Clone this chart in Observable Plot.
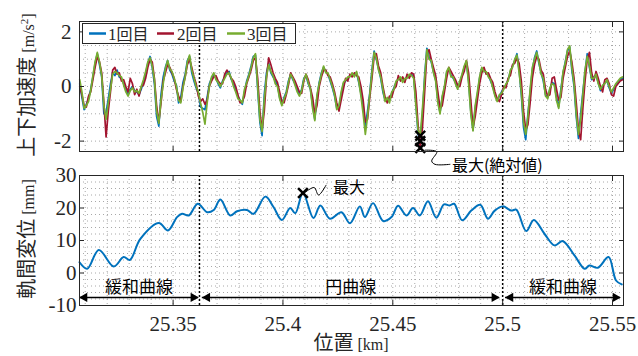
<!DOCTYPE html>
<html><head><meta charset="utf-8">
<script src="https://cdn.jsdelivr.net/npm/d3@7"></script>
<script src="https://cdn.jsdelivr.net/npm/@observablehq/plot@0.6"></script>
<style>
body{margin:0;background:#fff;}
#wrap{position:relative;width:638px;height:356px;overflow:hidden;background:#fff;}
#wrap svg{position:absolute;left:0;}
</style></head><body><div id="wrap"></div>
<script>
// ---- data ----
const accStart = 25.3075, accStep = 0.001;
const acc1 = [
 0.1,-0.4,-0.85,-0.65,-0.45,-0.1,0.35,0.85,1.2,0.8,
 0.35,-1.0,-0.95,-0.45,0.1,0.5,0.4,0.6,0.35,0.3,
 0.1,-0.1,-0.3,-0.1,0.0,-0.15,-0.2,-0.3,-0.1,0.15,
 0.45,0.85,1.1,0.7,0.1,-1.1,-1.45,-0.3,0.35,0.7,
 0.95,0.6,0.45,0.2,0.05,-0.6,-0.4,0.15,0.45,0.95,
 1.1,0.5,0.2,-0.05,-0.25,-0.75,-0.8,-0.85,-0.4,0.1,
 0.3,0.45,0.3,0.1,-0.05,0.2,0.35,0.5,0.55,0.25,
 0.1,-0.15,-0.35,-0.5,-0.65,-0.2,0.2,0.45,0.75,1.1,
 1.15,-0.1,-1.3,-1.8,-0.3,0.5,0.85,0.5,0.35,0.2,
 0.05,-0.4,-0.65,-0.4,-0.2,0.2,0.45,0.25,0.1,-0.1,
 -0.3,-0.1,0.3,0.4,0.1,-0.1,-0.7,-1.2,-0.4,0.15,
 0.5,0.7,0.55,0.45,0.2,-0.05,-0.35,-0.8,-0.75,-0.3,
 0.1,0.2,0.3,0.4,0.45,0.4,0.5,0.15,-0.25,-0.7,
 -1.45,-0.9,-0.25,0.6,1.3,1.0,0.65,0.3,-0.2,-0.5,
 -0.45,-0.5,-0.25,-0.05,0.15,0.3,0.3,0.2,0.25,0.35,
 0.4,0.45,0.35,-0.6,-1.75,-2.0,-1.0,0.4,1.4,1.1,
 0.9,0.55,0.25,-0.5,-0.95,-0.4,-0.05,0.5,0.65,0.4,
 0.3,0.15,-0.05,0.15,0.4,0.7,0.9,0.2,-0.9,-1.6,
 -0.8,-0.3,0.3,0.65,0.6,0.5,0.4,0.2,0.0,-0.3,
 -0.5,-0.35,-0.2,-0.05,0.05,0.25,0.55,0.75,0.95,1.2,
 0.6,-0.3,-1.5,-1.95,-1.0,-0.2,0.6,1.05,1.3,0.85,
 0.5,0.2,-0.3,-0.4,-0.1,0.15,0.1,-0.4,-0.75,-0.1,
 0.5,0.9,1.3,1.45,0.6,0.0,-1.1,-1.9,-1.0,-0.2,
 0.55,1.2,0.7,0.25,0.35,0.4,0.15,-0.15,0.0,0.15,
 0.2,-0.05,-0.25,-0.1,0.05,0.15,0.25,0.3];
const acc2 = [
 0.0,-0.3,-0.7,-0.75,-0.35,-0.2,0.25,0.7,1.1,0.9,
 0.5,-0.6,-1.85,-0.9,-0.2,0.6,0.7,0.45,0.5,0.2,
 0.25,0.0,-0.2,0.3,0.1,-0.3,-0.1,-0.35,0.0,0.05,
 0.3,0.7,1.0,0.9,0.3,-0.7,-1.3,-0.6,0.2,0.5,
 0.8,0.7,0.5,0.3,-0.1,-0.35,-0.55,0.0,0.35,0.8,
 1.0,0.7,0.35,0.1,-0.35,-0.55,-0.45,-0.65,-0.5,0.0,
 0.2,0.35,0.4,0.2,0.1,0.1,0.45,0.6,0.45,0.3,
 0.2,0.0,-0.3,-0.6,-0.55,-0.35,0.1,0.35,0.6,0.95,
 1.05,0.3,-0.9,-1.6,-0.9,0.3,1.05,0.8,0.5,0.3,
 0.15,-0.2,-0.55,-0.6,-0.3,0.05,0.5,0.35,0.2,0.0,
 -0.2,-0.25,0.2,0.45,0.25,-0.05,-0.4,-1.0,-0.7,0.0,
 0.35,0.6,0.6,0.4,0.35,0.1,-0.2,-0.6,-0.9,-0.5,
 -0.1,0.3,0.2,0.45,0.35,0.5,0.4,0.35,0.0,-0.5,
 -1.3,-1.2,-0.4,0.3,1.1,1.2,0.75,0.5,0.0,-0.4,
 -0.6,-0.35,-0.4,-0.1,0.0,0.4,0.2,0.35,0.15,0.45,
 0.3,0.5,0.45,-0.2,-1.4,-2.25,-1.5,-0.2,1.2,1.35,
 1.0,0.7,0.4,-0.2,-0.8,-0.7,-0.2,0.3,0.7,0.55,
 0.4,0.25,0.05,0.0,0.35,0.55,0.95,0.5,-0.5,-1.5,
 -1.1,-0.5,0.1,0.5,0.7,0.45,0.5,0.3,0.15,-0.2,
 -0.45,-0.55,-0.3,0.0,-0.05,0.3,0.4,0.8,0.85,1.05,
 0.85,0.2,-0.9,-1.6,-1.4,-0.6,0.3,0.8,1.1,1.0,
 0.6,0.45,-0.1,-0.35,-0.3,0.3,0.35,-0.1,-0.5,-0.4,
 0.3,0.7,1.1,1.3,0.9,0.3,-0.6,-1.6,-1.95,-0.8,
 0.2,1.0,1.25,0.5,0.2,0.55,0.3,0.0,-0.2,0.25,
 0.3,0.1,-0.3,-0.35,0.0,0.1,0.2,0.25];
const acc3 = [
 0.25,-0.2,-0.8,-0.7,-0.55,-0.15,0.4,0.9,1.25,0.9,
 0.4,-0.7,-1.2,-0.6,-0.1,0.45,0.55,0.5,0.4,0.35,
 0.05,-0.2,-0.35,-0.15,-0.05,-0.2,-0.15,-0.25,0.0,0.25,
 0.55,0.9,1.05,0.75,0.25,-0.9,-1.35,-0.5,0.1,0.65,
 0.95,0.65,0.55,0.3,0.0,-0.5,-0.6,-0.05,0.35,0.9,
 1.15,0.6,0.3,0.0,-0.2,-0.6,-0.95,-1.38,-0.6,0.0,
 0.35,0.5,0.25,0.15,0.0,0.15,0.3,0.45,0.5,0.3,
 0.0,-0.2,-0.45,-0.5,-0.6,-0.1,0.15,0.4,0.7,1.05,
 1.2,0.0,-1.2,-1.65,-0.5,0.35,0.8,0.55,0.4,0.1,
 0.0,-0.45,-0.7,-0.45,-0.25,0.15,0.45,0.3,0.05,-0.2,
 -0.35,-0.15,0.25,0.45,0.15,-0.1,-0.8,-1.25,-0.3,0.1,
 0.45,0.75,0.5,0.5,0.25,0.0,-0.3,-0.85,-0.7,-0.2,
 0.15,0.25,0.35,0.35,0.5,0.35,0.55,0.2,-0.35,-1.0,
 -1.75,-1.1,-0.3,0.5,1.25,1.05,0.6,0.35,-0.1,-0.55,
 -0.4,-0.6,-0.2,-0.1,0.2,0.25,0.35,0.15,0.3,0.3,
 0.45,0.4,0.3,-0.7,-1.6,-1.8,-0.8,0.3,1.35,1.0,
 0.95,0.5,0.2,-0.6,-1.0,-0.35,0.0,0.55,0.7,0.35,
 0.35,0.1,-0.1,0.2,0.45,0.75,0.95,0.1,-1.0,-1.63,
 -0.7,-0.2,0.35,0.7,0.55,0.55,0.35,0.25,-0.05,-0.35,
 -0.55,-0.3,-0.25,-0.1,0.1,0.2,0.6,0.7,1.0,1.15,
 0.5,-0.2,-1.3,-1.75,-1.1,-0.1,0.7,1.0,1.25,0.9,
 0.45,0.3,-0.35,-0.45,-0.05,0.1,0.05,-0.5,-0.8,-0.2,
 0.55,0.85,1.35,1.49,0.7,0.1,-1.0,-1.75,-1.2,-0.3,
 0.6,1.1,0.75,0.3,0.3,0.45,0.1,-0.1,0.05,0.1,
 0.25,0.0,-0.2,-0.05,0.1,0.2,0.3,0.35];
const seriesNames = ["1回目", "2回目", "3回目"];
const seriesColors = ["#0072BD", "#A2142F", "#77AC30"];

const dispX = [25.3074,25.3109,25.3162,25.3230,25.3275,25.3303,25.3351,25.3435,25.3477,25.3518,25.3541,25.3571,25.3612,25.3655,25.3685,25.3715,25.3760,25.3791,25.3836,25.3866,25.3920,25.3957,25.3995,25.4033,25.4056,25.4091,25.4139,25.4170,25.4214,25.4266,25.4305,25.4350,25.4373,25.4410,25.4456,25.4494,25.4524,25.4562,25.4592,25.4623,25.4660,25.4698,25.4733,25.4759,25.4779,25.4816,25.4857,25.4898,25.4933,25.4964,25.5001,25.5039,25.5062,25.5107,25.5142,25.5191,25.5236,25.5274,25.5327,25.5373,25.5395,25.5433,25.5482,25.5516,25.5542];
const dispY = [3.3,1.3,7.1,2.0,4.9,4.0,10.5,15.4,13.1,17.2,18.2,17.7,21.3,18.7,19.4,22.6,17.7,19.0,19.4,18.2,23.5,20.3,16.3,20.0,18.4,24.6,16.9,20.8,16.7,18.7,15.3,20.5,17.2,21.5,16.0,17.2,20.7,17.7,20.0,17.7,22.1,17.0,21.1,20.8,21.3,16.2,19.2,21.0,16.7,19.2,20.5,19.2,19.5,12.9,16.3,12.0,8.5,9.8,5.4,1.3,2.3,1.6,4.9,-2.3,-3.5];

const xTicks = [25.35, 25.4, 25.45, 25.5, 25.55];
const accTicks = [-2, 0, 2];
const dispTicks = [-10, 0, 10, 20, 30];
const sectionNames = ["緩和曲線", "円曲線", "緩和曲線"];
const sectionStart = [25.3074, 25.3633, 25.5013];
const sectionEnd = [25.3615, 25.4985, 25.5536];
const sectionArrowY = -7.5, sectionLabelY = -4.6;
const sectionBounds = [25.362, 25.5];
const maxLabelTop = "最大(絶対値)", maxLabelBottom = "最大";
const leaderTopX = [25.4647, 25.4700, 25.4677, 25.4692, 25.4760];
const leaderTopY = [-2.33, -2.39, -2.73, -2.85, -2.85];
const leaderBotX = [25.4101, 25.4142, 25.4162, 25.4196];
const leaderBotY = [24.8, 26.3, 24.0, 27.0];

// ---- build ----
const xDomain = [25.3074, 25.555];
const CJK = "Noto Sans CJK JP", SERIF = "Liberation Serif";
const gridStyle = {stroke: "#a8a8a8", strokeOpacity: 1, strokeDasharray: "1,3"};
const accSeries = [acc1, acc2, acc3].map(arr => arr.map((v, i) => ({x: accStart + i * accStep, y: v})));
const accMarkers = accSeries.map(s => s[d3.greatestIndex(s, d => Math.abs(d.y))]);
const disp = dispX.map((x, i) => ({x, y: dispY[i]}));
const dispMax = disp[d3.greatestIndex(disp, d => d.y)];
const sections = sectionNames.map((name, i) => ({name, a: sectionStart[i], b: sectionEnd[i], m: (sectionStart[i] + sectionEnd[i]) / 2}));
const xMinor = d3.range(25.31, 25.5551, 0.01);

const frameAxes = (yTicks) => [
  Plot.frame({stroke: "#262626"}),
  Plot.axisX(xTicks, {anchor: "bottom", tickSize: -5, fill: "none", label: null, stroke: "#262626"}),
  Plot.axisX(xTicks, {anchor: "top", tickSize: -5, fill: "none", label: null, stroke: "#262626"}),
  Plot.axisY(yTicks, {anchor: "left", tickSize: -5, fill: "none", label: null, stroke: "#262626"}),
  Plot.axisY(yTicks, {anchor: "right", tickSize: -5, fill: "none", label: null, stroke: "#262626"})
];

const topPlot = Plot.plot({
  width: 638, height: 175, marginLeft: 79, marginRight: 15, marginTop: 21, marginBottom: 24,
  style: {fontFamily: SERIF, background: "transparent", overflow: "visible"},
  x: {domain: xDomain},
  y: {domain: [-2.38, 2.38]},
  marks: [
    Plot.gridX(xMinor, gridStyle),
    Plot.gridY(d3.range(-2, 2.01, 0.5), gridStyle),
    Plot.ruleX(sectionBounds, {stroke: "#000", strokeWidth: 1.5, strokeDasharray: "2,2"}),
    ...accSeries.map((s, i) => Plot.line(s, {x: "x", y: "y", stroke: seriesColors[i], strokeWidth: 1.7})),
    Plot.dot(accMarkers, {x: "x", y: "y", symbol: "times", r: 4.5, stroke: "#000", strokeWidth: 2.5}),
    Plot.line(leaderTopX.map((x, i) => ({x, y: leaderTopY[i]})), {x: "x", y: "y", curve: "catmull-rom", stroke: "#000", strokeWidth: 1}),
    Plot.text([maxLabelTop], {x: leaderTopX[leaderTopX.length - 1], y: leaderTopY[leaderTopY.length - 1], text: d => d, textAnchor: "start", dx: 2, dy: 2, fontFamily: CJK, fontSize: 16, fill: "#000"}),
    ...frameAxes(accTicks),
    Plot.axisY(accTicks, {anchor: "left", tickSize: 0, tickPadding: 8, fontSize: 21, label: null, tickFormat: d => String(d), fill: "#262626"})
  ]
});

const botPlot = Plot.plot({
  width: 638, height: 196, marginLeft: 79, marginRight: 15, marginTop: 15, marginBottom: 51,
  style: {fontFamily: SERIF, background: "transparent", overflow: "visible"},
  x: {domain: xDomain},
  y: {domain: [-10, 30]},
  marks: [
    Plot.gridX(xMinor, gridStyle),
    Plot.gridY(d3.range(-10, 30.1, 2), gridStyle),
    Plot.ruleX(sectionBounds, {stroke: "#000", strokeWidth: 1.5, strokeDasharray: "2,2"}),
    Plot.line(disp, {x: "x", y: "y", curve: "catmull-rom", stroke: seriesColors[0], strokeWidth: 2}),
    Plot.dot([dispMax], {x: "x", y: "y", symbol: "times", r: 4.5, stroke: "#000", strokeWidth: 2.5}),
    Plot.line(leaderBotX.map((x, i) => ({x, y: leaderBotY[i]})), {x: "x", y: "y", curve: "catmull-rom", stroke: "#000", strokeWidth: 1}),
    Plot.text([maxLabelBottom], {x: leaderBotX[leaderBotX.length - 1], y: leaderBotY[leaderBotY.length - 1], text: d => d, textAnchor: "start", dx: 7, dy: 3, fontFamily: CJK, fontSize: 16, fill: "#000"}),
    Plot.ruleY(sections, {x1: "a", x2: "b", y: () => sectionArrowY, stroke: "#000", strokeWidth: 1.5}),
    Plot.dot(sections, {x: "b", y: () => sectionArrowY, symbol: "triangle", rotate: 90, r: 3.5, fill: "#000", dx: -5}),
    Plot.dot(sections, {x: "a", y: () => sectionArrowY, symbol: "triangle", rotate: -90, r: 3.5, fill: "#000", dx: 5}),
    Plot.text(sections, {x: "m", y: () => sectionLabelY, text: "name", fontFamily: CJK, fontSize: 17, fill: "#000"}),
    ...frameAxes(dispTicks),
    Plot.axisY(dispTicks, {anchor: "left", tickSize: 0, tickPadding: 3, fontSize: 21, label: null, tickFormat: d => String(d), fill: "#262626"}),
    Plot.axisX(xTicks, {anchor: "bottom", tickSize: 0, tickPadding: 11, fontSize: 21, label: null, tickFormat: d => String(d), fill: "#262626"})
  ]
});

const wrap = document.getElementById("wrap");
topPlot.style.top = "0px";
botPlot.style.top = "160px";
wrap.appendChild(topPlot);
wrap.appendChild(botPlot);

function addLabel(svg, x, y, rotate, parts) {
  const t = d3.select(svg).append("text")
    .attr("transform", `translate(${x},${y})` + (rotate ? ` rotate(${rotate})` : ""))
    .attr("text-anchor", "middle").attr("fill", "#262626");
  for (const p of parts) {
    const s = t.append("tspan").text(p.t).attr("font-family", p.f).attr("font-size", p.s);
    if (p.dy) s.attr("dy", p.dy);
  }
}
addLabel(topPlot, 34, 85, -90, [
  {t: "上下加速度", f: CJK, s: 20},
  {t: " [m/s", f: SERIF, s: 16},
  {t: "2", f: SERIF, s: 11, dy: -6},
  {t: "]", f: SERIF, s: 16, dy: 6}
]);
addLabel(botPlot, 34, 79, -90, [
  {t: "軌間変位", f: CJK, s: 20},
  {t: " [mm]", f: SERIF, s: 16}
]);
addLabel(botPlot, 351, 190, 0, [
  {t: "位置", f: CJK, s: 20},
  {t: " [km]", f: SERIF, s: 16}
]);

// legend
const lg = d3.select(topPlot).append("g");
lg.append("rect").attr("x", 82.5).attr("y", 23.5).attr("width", 213).attr("height", 20)
  .attr("fill", "#fff").attr("stroke", "#262626");
const lgLine = [[89, 106], [157, 174], [227, 245]];
const lgText = [108, 177, 247];
seriesNames.forEach((n, i) => {
  lg.append("line").attr("x1", lgLine[i][0]).attr("x2", lgLine[i][1]).attr("y1", 33.5).attr("y2", 33.5)
    .attr("stroke", seriesColors[i]).attr("stroke-width", 2.5);
  const t = lg.append("text").attr("x", lgText[i]).attr("y", 39.5).attr("fill", "#262626").attr("text-anchor", "start");
  t.append("tspan").text(n[0]).attr("font-family", SERIF).attr("font-size", 17);
  t.append("tspan").text(n.slice(1)).attr("font-family", CJK).attr("font-size", 16);
});
</script></body></html>
